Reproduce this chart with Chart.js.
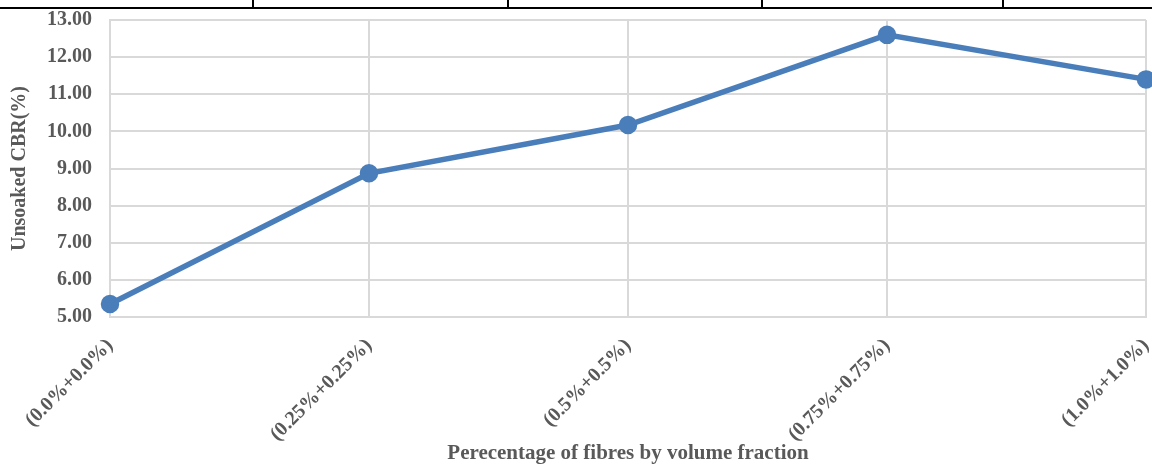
<!DOCTYPE html>
<html>
<head>
<meta charset="utf-8">
<script src="https://cdn.jsdelivr.net/npm/chart.js@4"></script>
<style>
    html, body { margin: 0; padding: 0; background: #fff; }
    #caja { position: relative; width: 1152px; height: 466px; }
    #tabla { position: absolute; left: 0; top: 0; width: 1152px; height: 7px; border-bottom: 2px solid #000; z-index: 2; }
    #tabla div { position: absolute; top: 0; height: 7px; border-left: 2px solid #000; }
</style>
</head>
<body>
<div id="caja">
    <div id="tabla">
        <div style="left:252px"></div>
        <div style="left:507px"></div>
        <div style="left:761px"></div>
        <div style="left:1002px"></div>
    </div>
    <canvas id="grafico_main" width="1152" height="466"></canvas>
</div>
<script>
// categorias del eje x
let categorias = ['(0.0%+0.0%)', '(0.25%+0.25%)', '(0.5%+0.5%)', '(0.75%+0.75%)', '(1.0%+1.0%)']
// valores CBR sin saturar
let cbr_valores = [5.35, 8.87, 10.17, 12.60, 11.40]
let titulo_x = 'Perecentage of fibres by volume fraction'
let titulo_y = 'Unsoaked CBR(%)'

let color_linea = '#4a7ebb'
let color_texto = '#595959'
let color_grid = '#d9d9d9'

let familia = '"Liberation Serif", "Times New Roman", serif'
let fuente_ticks = { family: familia, size: 20, weight: 'bold' }
let fuente_titulo_x = { family: familia, size: 21, weight: 'bold' }
let fuente_titulo_y = { family: familia, size: 20, weight: 'bold' }

var configuracion = {
    type: 'line',
    data: {
        labels: categorias,
        datasets: [
            {
                label: titulo_y,
                data: cbr_valores,
                borderColor: color_linea,
                backgroundColor: color_linea,
                borderWidth: 5.5,
                pointRadius: 6.5,
                pointHoverRadius: 6.5,
                tension: 0
            },
        ]
    },
    options: {
        responsive: false,
        animation: false,
        layout: { autoPadding: false, padding: { top: 20, right: 6, left: 0, bottom: 0 } },
        plugins: {
            legend: { display: false },
            tooltip: { enabled: false }
        },
        scales: {
            x: {
                offset: false,
                grid: { color: color_grid, lineWidth: 2, drawTicks: false },
                border: { color: color_grid, width: 2 },
                ticks: {
                    color: color_texto,
                    font: fuente_ticks,
                    minRotation: 45,
                    maxRotation: 45,
                    padding: 17
                },
                title: {
                    display: true,
                    text: titulo_x,
                    color: color_texto,
                    font: fuente_titulo_x,
                    padding: { top: 0, bottom: 0 }
                },
                afterFit: function(escala) {
                    escala.height = 149
                    escala.paddingRight = 0
                }
            },
            y: {
                min: 5,
                max: 13,
                grid: { color: color_grid, lineWidth: 2, drawTicks: false },
                border: { color: color_grid, width: 2 },
                ticks: {
                    stepSize: 1,
                    color: color_texto,
                    font: fuente_ticks,
                    padding: 18,
                    callback: function(valor) { return valor.toFixed(2) }
                },
                title: {
                    display: true,
                    text: titulo_y,
                    color: color_texto,
                    font: fuente_titulo_y,
                    padding: { top: 8, bottom: 0 }
                },
                afterFit: function(escala) {
                    escala.width = 110
                    escala.paddingTop = 0
                }
            }
        }
    }
};

var ctx = document.getElementById('grafico_main').getContext('2d');
var grafico_main = new Chart(ctx, configuracion);
</script>
</body>
</html>
